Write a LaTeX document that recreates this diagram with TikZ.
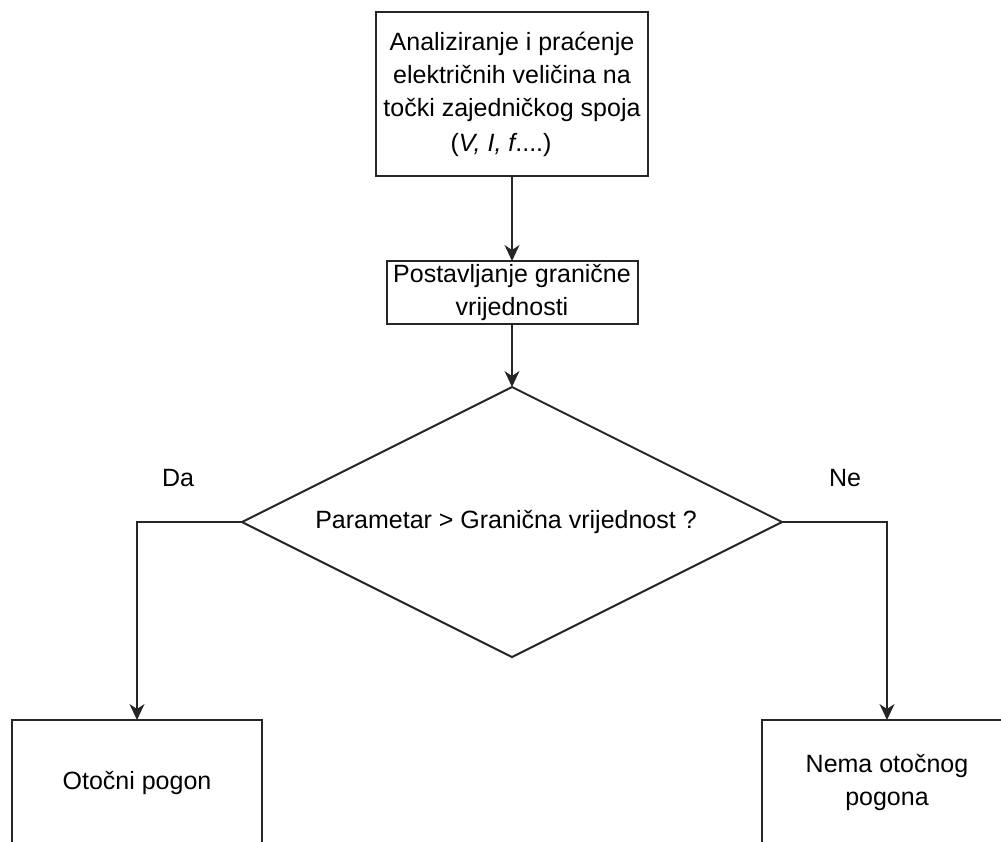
\documentclass[tikz,border=0pt]{standalone}
\usepackage{fontspec}
\setmainfont{Liberation Sans}
\usetikzlibrary{shapes.geometric,arrows.meta}

\tikzset{
  box/.style={draw=black!85, line width=2pt, rectangle, align=center, inner sep=0pt, outer sep=0pt},
  decision/.style={draw=black!85, line width=2pt, diamond, inner sep=0pt, outer sep=0pt,
    minimum width=540pt, minimum height=270pt},
  flow/.style={draw=black!85, line width=2pt, -{Stealth[length=16pt,width=15pt,inset=5pt]}}
}

\begin{document}
\begin{tikzpicture}[x=1pt,y=-1pt,font=\fontsize{25}{33}\selectfont]
\useasboundingbox (0,0) rectangle (1001,841);
\clip (0,0) rectangle (1001,841);

% boxes
\node[box, minimum width=272pt, minimum height=164pt] (analiza) at (512,94)
  {Analiziranje i praćenje\\ električnih veličina na\\ točki zajedničkog spoja\\[2pt] (\textit{V, I, f}....)\hspace*{22pt}};
\node[box, minimum width=251pt, minimum height=63pt] (granica) at (512,292.5)
  {Postavljanje granične\\ vrijednosti};
\node[decision] (odluka) at (512,522) {\makebox[0pt]{Parametar > Granična vrijednost ?\hspace*{12pt}}};
\node[box, minimum width=250pt, minimum height=125pt] (otocni) at (137,782.5) {Otočni pogon};
\node[box, minimum width=250pt, minimum height=125pt] (nemaotoc) at (887,782.5) {Nema otočnog\\ pogona};

% labels
\node (da) at (178,478) {Da};
\node (ne) at (845,478) {Ne};

% connectors
\draw[flow] (analiza) -- (granica);
\draw[flow] (granica) -- (odluka);
\draw[flow] (odluka.west) -| (otocni);
\draw[flow] (odluka.east) -| (nemaotoc);
\end{tikzpicture}
\end{document}
